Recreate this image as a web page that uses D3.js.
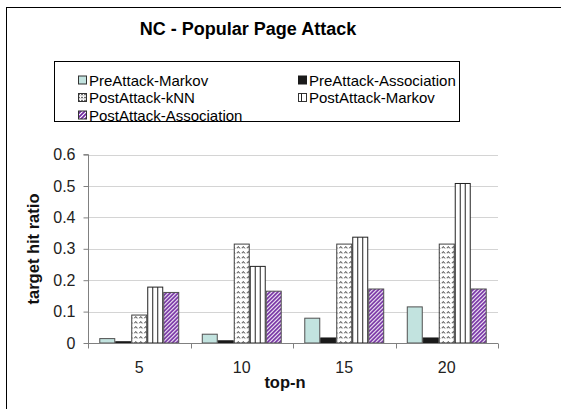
<!DOCTYPE html>
<html>
<head>
<meta charset="utf-8">
<script src="https://cdn.jsdelivr.net/npm/d3@7"></script>
<style>
  html, body { margin: 0; padding: 0; background: #fff; }
  svg { display: block; font-family: "Liberation Sans", Arial, sans-serif; }
</style>
</head>
<body>
<svg id="chart" width="561" height="409"></svg>
<script>
// Chart data
const categories = ["5", "10", "15", "20"];
const seriesNames = [
  "PreAttack-Markov",
  "PreAttack-Association",
  "PostAttack-kNN",
  "PostAttack-Markov",
  "PostAttack-Association"
];
const preAttackMarkov = [0.014, 0.028, 0.079, 0.115];
const preAttackAssociation = [0.004, 0.007, 0.016, 0.016];
const postAttackKNN = [0.089, 0.315, 0.315, 0.315];
const postAttackMarkov = [0.178, 0.244, 0.337, 0.508];
const postAttackAssociation = [0.161, 0.165, 0.172, 0.172];
const yTicks = [0, 0.1, 0.2, 0.3, 0.4, 0.5, 0.6];

const seriesValues = [preAttackMarkov, preAttackAssociation, postAttackKNN, postAttackMarkov, postAttackAssociation];

const svg = d3.select("#chart");
const defs = svg.append("defs");

// Fill patterns
// wavy black-on-white
const wave = defs.append("pattern").attr("id", "pWave")
  .attr("patternUnits", "userSpaceOnUse").attr("width", 5).attr("height", 5);
wave.append("rect").attr("width", 5).attr("height", 5).attr("fill", "#fff");
wave.append("path").attr("d", "M0,3.5 L1.5,1.5 L3,3.5").attr("fill", "none")
  .attr("stroke", "#000").attr("stroke-width", 0.8);

// white fill for the vertical-line bars (lines drawn per bar)
const vert = defs.append("pattern").attr("id", "pVert")
  .attr("patternUnits", "objectBoundingBox").attr("patternContentUnits", "objectBoundingBox")
  .attr("width", 1 / 3).attr("height", 1);
vert.append("rect").attr("width", 1 / 3).attr("height", 1).attr("fill", "#fff");

// purple diagonal hatching
const diag = defs.append("pattern").attr("id", "pDiag")
  .attr("patternUnits", "userSpaceOnUse").attr("width", 4).attr("height", 4);
diag.append("rect").attr("width", 4).attr("height", 4).attr("fill", "#fff");
diag.append("path").attr("d", "M-1,1 L1,-1 M0,4 L4,0 M3,5 L5,3")
  .attr("stroke", "#7028a0").attr("stroke-width", 1.7);

// legend-sized wave
const waveS = defs.append("pattern").attr("id", "pWaveS")
  .attr("patternUnits", "userSpaceOnUse").attr("width", 3).attr("height", 3);
waveS.append("rect").attr("width", 3).attr("height", 3).attr("fill", "#fff");
waveS.append("path").attr("d", "M0,2.5 L1,0.8 L2,2.5").attr("fill", "none")
  .attr("stroke", "#000").attr("stroke-width", 0.6);

const fills = ["#c2e3df", "#1a1a1a", "url(#pWave)", "url(#pVert)", "url(#pDiag)"];
const legendFills = ["#c2e3df", "#1a1a1a", "url(#pWaveS)", "#fff", "url(#pDiag)"];
const strokes = ["#505050", "#1a1a1a", "#404040", "#222", "#505050"];

// outer frame (extends beyond the canvas on right and bottom)
svg.append("rect").attr("x", 6.5).attr("y", 7.5).attr("width", 700).attr("height", 600)
  .attr("fill", "none").attr("stroke", "#000").attr("stroke-width", 1);

// title
svg.append("text").attr("x", 248).attr("y", 34.5).attr("text-anchor", "middle")
  .attr("font-size", 18).attr("font-weight", "bold").attr("fill", "#000")
  .text("NC - Popular Page Attack");

// legend
const legend = svg.append("g");
legend.append("rect").attr("x", 54.5).attr("y", 61.5).attr("width", 405).attr("height", 60)
  .attr("fill", "#fff").attr("stroke", "#000").attr("stroke-width", 1);
const legendPos = [
  [78, 80.5], [298, 80.5], [78, 98], [298, 98], [78, 115.5]
];
seriesNames.forEach((name, i) => {
  const [lx, ly] = legendPos[i];
  const g = legend.append("g");
  g.append("rect").attr("x", lx + 0.5).attr("y", ly - 4.5).attr("width", 8).attr("height", 8)
    .attr("fill", legendFills[i]).attr("stroke", i === 1 ? "#1a1a1a" : "#333").attr("stroke-width", 1);
  if (i === 3) {
    g.append("line").attr("x1", lx + 3.5).attr("x2", lx + 3.5).attr("y1", ly - 4.5).attr("y2", ly + 3.5)
      .attr("stroke", "#222");
  }
  g.append("text").attr("x", lx + 11).attr("y", ly + 5.3).attr("font-size", 15).attr("fill", "#000")
    .text(name);
});

// plot area
const plot = { left: 88, right: 498, top: 154.6, bottom: 343 };
const x0 = d3.scaleBand().domain(categories).range([plot.left, plot.right]).paddingInner(0).paddingOuter(0);
const groupWidth = x0.bandwidth() * 0.78;
const x1 = d3.scaleBand().domain(seriesNames).range([0, groupWidth]);
const y = d3.scaleLinear().domain([0, 0.6]).range([plot.bottom, plot.top]);

// gridlines
svg.append("g").selectAll("line").data(yTicks.filter(t => t > 0)).join("line")
  .attr("x1", plot.left).attr("x2", plot.right)
  .attr("y1", d => Math.round(y(d)) + 0.5).attr("y2", d => Math.round(y(d)) + 0.5)
  .attr("stroke", "#d4d4d4").attr("stroke-width", 1);

// bars
const groups = svg.append("g").selectAll("g").data(categories).join("g")
  .attr("transform", c => `translate(${x0(c) + (x0.bandwidth() - groupWidth) / 2},0)`);
groups.selectAll("g").data((c, ci) => seriesNames.map((s, si) => ({ s, si, v: seriesValues[si][ci] })))
  .join("g")
  .each(function (d) {
    const g = d3.select(this);
    const bx = x1(d.s), bw = x1.bandwidth(), by = y(d.v), bh = plot.bottom - y(d.v);
    g.append("rect").attr("x", bx + 0.5).attr("y", by).attr("width", bw - 1).attr("height", bh)
      .attr("fill", fills[d.si]).attr("stroke", strokes[d.si]).attr("stroke-width", 1);
    if (d.si === 3) {
      [1 / 3, 2 / 3].forEach(f => {
        g.append("line").attr("x1", bx + 0.5 + (bw - 1) * f).attr("x2", bx + 0.5 + (bw - 1) * f)
          .attr("y1", by).attr("y2", plot.bottom).attr("stroke", "#222").attr("stroke-width", 1);
      });
    }
  });

// y axis
const yAxis = d3.axisLeft(y).tickValues(yTicks).tickSize(5).tickPadding(8)
  .tickFormat(d => d === 0 ? "0" : d3.format(".1f")(d));
const yg = svg.append("g").attr("transform", `translate(${plot.left + 0.5},0)`).call(yAxis);
yg.select(".domain").attr("stroke", "#808080").attr("d", `M-5,${plot.top}H0V${plot.bottom}`);
yg.selectAll(".tick line").attr("stroke", "#808080");
yg.selectAll(".tick text").attr("font-size", 16).attr("fill", "#222")
  .attr("font-family", "'Liberation Sans', Arial, sans-serif");

// x axis
const xAxis = d3.axisBottom(x0).tickSize(0).tickPadding(18);
const xg = svg.append("g").attr("transform", `translate(0,${plot.bottom + 0.5})`).call(xAxis);
xg.select(".domain").attr("stroke", "#808080").attr("d", `M${plot.left},0H${plot.right}`);
xg.selectAll(".tick text").attr("font-size", 16).attr("fill", "#222")
  .attr("font-family", "'Liberation Sans', Arial, sans-serif");
// category boundary ticks
xg.append("g").selectAll("line").data(categories.concat(["end"])).join("line")
  .attr("x1", (c, i) => Math.round(plot.left + i * x0.bandwidth()) + 0.5)
  .attr("x2", (c, i) => Math.round(plot.left + i * x0.bandwidth()) + 0.5)
  .attr("y1", 0).attr("y2", 5).attr("stroke", "#808080");

// axis titles
svg.append("text").attr("x", 285).attr("y", 388).attr("text-anchor", "middle")
  .attr("font-size", 16.5).attr("font-weight", "bold").attr("fill", "#111").text("top-n");
svg.append("text").attr("transform", "translate(39,249) rotate(-90)").attr("text-anchor", "middle")
  .attr("font-size", 16.5).attr("font-weight", "bold").attr("fill", "#111").text("target hit ratio");
</script>
</body>
</html>
